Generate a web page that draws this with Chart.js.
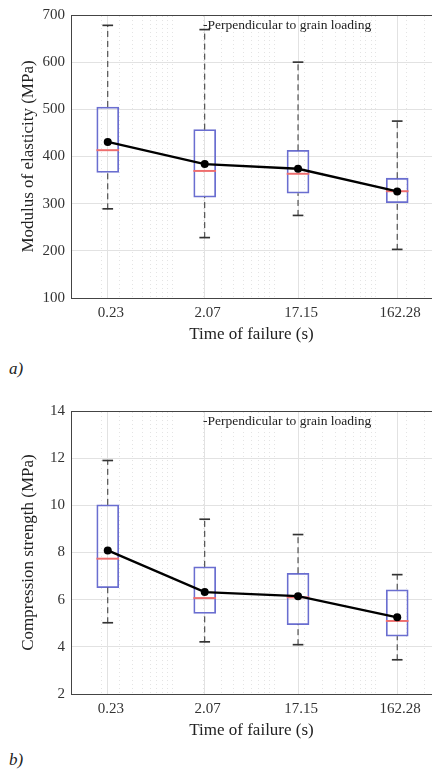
<!DOCTYPE html>
<html lang="en">
<head>
  <meta charset="UTF-8" />
  <title>Modulus and compression strength vs time of failure</title>
  <style>
    * { box-sizing: border-box; }
    body {
      margin: 0;
      width: 432px;
      height: 775px;
      overflow: hidden;
      background: #fff;
      font-family: "Liberation Serif", serif;
      position: relative;
    }
    .panel {
      position: absolute;
      left: 0;
      width: 436px;   /* 4px extra: point overflow padding on the right */
      height: 345px;
    }
    .tag {
      position: absolute;
      left: 9px;
      font-style: italic;
      font-size: 17px;
      color: #222;
    }
  </style>
</head>
<body>

  <div class="panel" style="top:0"><canvas id="chartA"></canvas></div>
  <div class="tag" style="top:359px">a)</div>
  <div class="panel" style="top:396px"><canvas id="chartB"></canvas></div>
  <div class="tag" style="top:750px">b)</div>

  <script src="https://cdn.jsdelivr.net/npm/chart.js"></script>
  <script>
    // time of failure (s), plotted on a log axis
    const failureTimes = [0.23, 2.07, 17.15, 162.28];
    const minorTicks = [0.1, 0.2, 0.3, 0.4, 0.5, 0.6, 0.7, 0.8, 0.9,
                        1, 2, 3, 4, 5, 6, 7, 8, 9,
                        10, 20, 30, 40, 50, 60, 70, 80, 90,
                        100, 200, 300];

    // a) modulus of elasticity (MPa)
    const moeMin    = [288, 227, 274, 202];
    const moeQ1     = [366, 314, 322, 302];
    const moeMedian = [412, 368, 362, 325];
    const moeQ3     = [505, 457, 413, 354];
    const moeMax    = [677, 668, 599, 474];
    const moeMean   = [431, 384, 374, 326];
    const moeTicks  = [100, 200, 300, 400, 500, 600, 700];

    // b) compression strength (MPa)
    const csMin    = [5.0, 4.19, 4.07, 3.43];
    const csQ1     = [6.51, 5.42, 4.94, 4.45];
    const csMedian = [7.71, 6.04, 6.07, 5.07];
    const csQ3     = [10.02, 7.39, 7.12, 6.42];
    const csMax    = [11.88, 9.39, 8.74, 7.04];
    const csMean   = [8.09, 6.32, 6.15, 5.25];
    const csTicks  = [2, 4, 6, 8, 10, 12, 14];

    const legendText = '-Perpendicular to grain loading';
    const serif = '"Liberation Serif", "DejaVu Serif", serif';

    const legendPlugin = {
      id: 'legendText',
      afterDatasetsDraw(chart) {
        const c = chart.ctx;
        c.save();
        c.font = '13.5px ' + serif;
        c.fillStyle = '#222';
        c.textBaseline = 'middle';
        c.textAlign = 'left';
        c.fillText(legendText, 203, 25);
        c.restore();
      }
    };

    function whisker(x, a, b) {
      return {
        type: 'line',
        data: [{ x: x, y: a }, { x: x, y: b }],
        borderColor: '#333',
        borderWidth: 1,
        borderDash: [6, 4],
        pointRadius: 0,
        pointHoverRadius: 0,
        order: 3
      };
    }

    // flat bar (zero range, drawn with minBarLength) for medians and caps
    function flatBars(values, color, width, thick, order) {
      return {
        type: 'bar',
        data: failureTimes.map((x, i) => ({ x: x, y: [values[i], values[i]] })),
        backgroundColor: color,
        borderWidth: 0,
        minBarLength: thick,
        barThickness: width,
        grouped: false,
        order: order
      };
    }

    function noPad(s) {
      s.paddingLeft = 0;
      s.paddingRight = 0;
    }

    function makeChart(id, yTitle, yTicks, mins, q1, med, q3, maxs, means) {
      const datasets = [];

      // mean line on top
      datasets.push({
        type: 'line',
        data: failureTimes.map((x, i) => ({ x: x, y: means[i] })),
        borderColor: '#000',
        borderWidth: 2.3,
        pointRadius: 4,
        pointHoverRadius: 4,
        pointBorderWidth: 0,
        pointBackgroundColor: '#000',
        order: 0
      });

      datasets.push(flatBars(med, '#ee6e6e', 22, 1.3, 1));
      datasets.push(flatBars(maxs, '#333', 10, 1, 2));
      datasets.push(flatBars(mins, '#333', 10, 1, 2));

      failureTimes.forEach((x, i) => {
        datasets.push(whisker(x, q3[i], maxs[i]));
        datasets.push(whisker(x, mins[i], q1[i]));
      });

      // boxes
      datasets.push({
        type: 'bar',
        data: failureTimes.map((x, i) => ({ x: x, y: [q1[i], q3[i]] })),
        backgroundColor: 'rgba(255,255,255,0)',
        borderColor: '#6a6ed0',
        borderWidth: 1.1,
        borderSkipped: false,
        barThickness: 22,
        grouped: false,
        order: 4
      });

      return new Chart(document.getElementById(id), {
        type: 'bar',
        data: { datasets: datasets },
        plugins: [legendPlugin],
        options: {
          responsive: true,
          maintainAspectRatio: false,
          animation: false,
          layout: { padding: { top: 14, right: 0, bottom: 0, left: 0 } },
          plugins: {
            legend: { display: false },
            tooltip: { enabled: false }
          },
          scales: {
            x: {
              type: 'logarithmic',
              position: 'bottom',
              offset: false,
              min: 0.1,
              max: 357,
              afterBuildTicks: s => { s.ticks = failureTimes.map(v => ({ value: v })); },
              afterFit: s => { s.height = 47; noPad(s); },
              ticks: {
                autoSkip: false,
                maxRotation: 0,
                padding: 6,
                labelOffset: 3,
                color: '#333',
                font: { family: serif, size: 15 },
                callback: v => String(v)
              },
              grid: { offset: false, color: '#e2e2e2', drawTicks: false },
              border: { color: '#444' },
              title: {
                display: true,
                text: 'Time of failure (s)',
                color: '#222',
                font: { family: serif, size: 17 },
                padding: { top: 0, bottom: 0 }
              }
            },
            x2: {
              type: 'logarithmic',
              position: 'top',
              offset: false,
              min: 0.1,
              max: 357,
              afterBuildTicks: s => { s.ticks = minorTicks.map(v => ({ value: v })); },
              afterFit: s => { s.height = 0; noPad(s); },
              ticks: { display: false },
              grid: { offset: false, color: '#e4e4e4', drawTicks: false },
              border: { color: '#444', dash: [1, 3] }
            },
            y: {
              min: yTicks[0],
              max: yTicks[yTicks.length - 1],
              afterBuildTicks: s => { s.ticks = yTicks.map(v => ({ value: v })); },
              afterFit: s => { s.width = 71; },
              ticks: {
                padding: 6,
                color: '#333',
                font: { family: serif, size: 15 }
              },
              grid: { color: '#e2e2e2', drawTicks: false },
              border: { color: '#444' },
              title: {
                display: true,
                text: yTitle,
                color: '#222',
                font: { family: serif, size: 17 },
                padding: { top: 18, bottom: 0 }
              }
            }
          }
        }
      });
    }

    makeChart('chartA', 'Modulus of elasticity (MPa)', moeTicks,
      moeMin, moeQ1, moeMedian, moeQ3, moeMax, moeMean);
    makeChart('chartB', 'Compression strength (MPa)', csTicks,
      csMin, csQ1, csMedian, csQ3, csMax, csMean);
  </script>
</body>
</html>
